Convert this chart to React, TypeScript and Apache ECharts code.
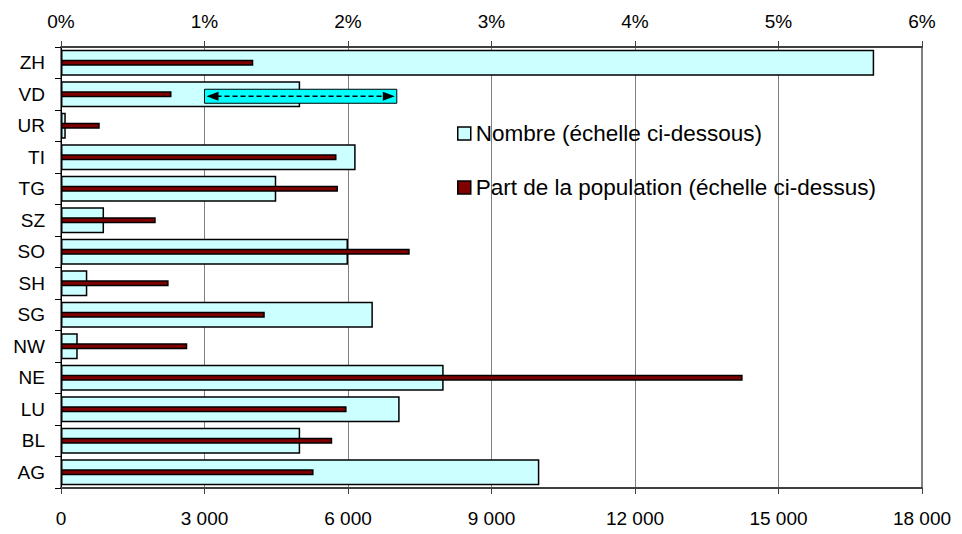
import React, { useEffect, useRef } from "react";
import * as echarts from "echarts";

const categories = ["ZH", "VD", "UR", "TI", "TG", "SZ", "SO", "SH", "SG", "NW", "NE", "LU", "BL", "AG"];
const nombre = [17000, 5000, 100, 6160, 4500, 900, 6000, 550, 6520, 350, 8000, 7080, 5000, 10000];
const partPopulation = [1.34, 0.77, 0.27, 1.92, 1.93, 0.66, 2.43, 0.75, 1.42, 0.88, 4.75, 1.99, 1.89, 1.76];
const nombreTicks = { min: 0, max: 18000, interval: 3000 };
const partTicks = { min: 0, max: 6, interval: 1 };
const seriesNames = ["Nombre (échelle ci-dessous)", "Part de la population (échelle ci-dessus)"];
const seriesColors = ["#CCFFFF", "#800000"];
// annotation arrow (double-headed) on the VD row, in % of top scale
const arrowFrom = 1;
const arrowTo = 2.34;
const arrowRow = "VD";

const FONT = "'Liberation Sans', Arial, sans-serif";

function fmtThousands(v: number): string {
  return String(v).replace(/\B(?=(\d{3})+(?!\d))/g, " ");
}

export default function App() {
  const ref = useRef<HTMLDivElement>(null);
  useEffect(() => {
    if (!ref.current) return;
    const chart = echarts.init(ref.current, undefined, { renderer: "svg" });
    const axisLabel = { color: "#000", fontFamily: FONT, fontSize: 19 };
    const legendBase = {
      left: 457,
      padding: 0,
      icon: "rect",
      itemWidth: 13,
      itemHeight: 13,
      textStyle: { color: "#000", fontFamily: FONT, fontSize: 22.5 },
      selectedMode: false,
    };
    chart.setOption({
      animation: false,
      backgroundColor: "#fff",
      grid: {
        left: 61,
        right: 40,
        top: 47,
        bottom: 46,
        show: true,
        borderColor: "#000",
        borderWidth: 1,
        backgroundColor: "transparent",
      },
      legend: [
        {
          ...legendBase,
          top: 122,
          data: [
            {
              name: seriesNames[0],
              itemStyle: { color: seriesColors[0], borderColor: "#000", borderWidth: 1.5 },
            },
          ],
        },
        {
          ...legendBase,
          top: 176,
          data: [
            {
              name: seriesNames[1],
              itemStyle: { color: seriesColors[1], borderColor: "#000", borderWidth: 1.5 },
            },
          ],
        },
      ],
      xAxis: [
        {
          type: "value",
          position: "bottom",
          min: nombreTicks.min,
          max: nombreTicks.max,
          interval: nombreTicks.interval,
          axisLine: { show: true, lineStyle: { color: "#404040", width: 2 } },
          axisTick: { show: true, length: 6, lineStyle: { color: "#404040" } },
          axisLabel: { ...axisLabel, margin: 21, formatter: (v: number) => fmtThousands(v) },
          splitLine: { show: true, lineStyle: { color: "#808080", width: 1 } },
        },
        {
          type: "value",
          position: "top",
          min: partTicks.min,
          max: partTicks.max,
          interval: partTicks.interval,
          axisLine: { show: true, lineStyle: { color: "#404040", width: 2 } },
          axisTick: { show: true, length: 6, lineStyle: { color: "#404040" } },
          axisLabel: { ...axisLabel, margin: 16, formatter: "{value}%" },
          splitLine: { show: false },
        },
      ],
      yAxis: [
        {
          type: "category",
          data: categories,
          inverse: true,
          axisLine: { show: true, lineStyle: { color: "#000", width: 1 } },
          axisTick: { show: true, length: 6, lineStyle: { color: "#000" } },
          axisLabel: { ...axisLabel, margin: 16 },
          splitLine: { show: false },
        },
        {
          type: "category",
          data: categories,
          inverse: true,
          show: false,
        },
      ],
      series: [
        {
          name: seriesNames[0],
          type: "bar",
          xAxisIndex: 0,
          yAxisIndex: 0,
          data: nombre,
          barWidth: 26,
          itemStyle: { color: seriesColors[0], borderColor: "#000", borderWidth: 1.5 },
          z: 2,
        },
        {
          name: seriesNames[1],
          type: "bar",
          xAxisIndex: 1,
          yAxisIndex: 1,
          data: partPopulation,
          barWidth: 6,
          itemStyle: { color: seriesColors[1], borderColor: "#000", borderWidth: 1.5 },
          z: 3,
        },
      ],
    });

    const x0 = chart.convertToPixel({ xAxisIndex: 1 }, arrowFrom) as number;
    const x1 = chart.convertToPixel({ xAxisIndex: 1 }, arrowTo) as number;
    const yc = (chart.convertToPixel({ yAxisIndex: 0 }, arrowRow) as number) + 2;
    const h = 14;
    const head = 12;
    chart.setOption({
      graphic: [
        {
          type: "rect",
          z: 100,
          zlevel: 1,
          shape: { x: x0, y: yc - h / 2, width: x1 - x0, height: h },
          style: { fill: "#00FFFF", stroke: "#000", lineWidth: 1 },
        },
        {
          type: "line",
          z: 101,
          zlevel: 1,
          shape: { x1: x0 + head, y1: yc, x2: x1 - head, y2: yc },
          style: { stroke: "#000", lineWidth: 1.5, lineDash: [5, 3] },
        },
        {
          type: "polygon",
          z: 101,
          zlevel: 1,
          shape: { points: [[x0 + 2, yc], [x0 + 2 + head, yc - 4.5], [x0 + 2 + head, yc + 4.5]] },
          style: { fill: "#000" },
        },
        {
          type: "polygon",
          z: 101,
          zlevel: 1,
          shape: { points: [[x1 - 2, yc], [x1 - 2 - head, yc - 4.5], [x1 - 2 - head, yc + 4.5]] },
          style: { fill: "#000" },
        },
      ],
    });
    return () => chart.dispose();
  }, []);
  return (
    <div
      ref={ref}
      style={{ position: "fixed", left: 0, top: 0, width: 962, height: 534, background: "#fff" }}
    />
  );
}
